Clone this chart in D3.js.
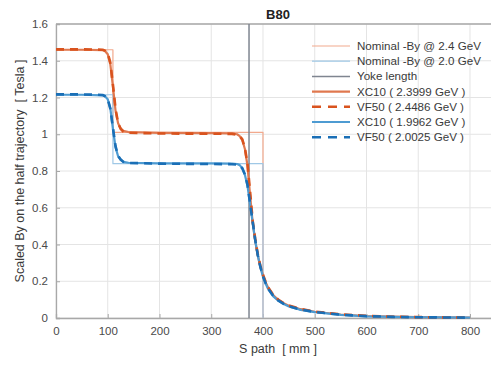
<!DOCTYPE html>
<html><head><meta charset="utf-8">
<script src="https://cdn.jsdelivr.net/npm/d3@7"></script>
<style>body{margin:0;background:#fff}svg{display:block;font-family:"Liberation Sans",Arial,sans-serif}text{white-space:pre}</style>
</head><body><div id="chart"></div>
<script>
// ---- data ----
const xTicks = [0,100,200,300,400,500,600,700,800];
const yTicks = [0,0.2,0.4,0.6,0.8,1,1.2,1.4,1.6];
const yTickLabels = ["0","0.2","0.4","0.6","0.8","1","1.2","1.4","1.6"];
const title = "B80";
const xLabel = "S path  [ mm ]";
const yLabel = "Scaled By on the half trajectory  [ Tesla ]";
const legendLabels = ["Nominal -By @ 2.4 GeV","Nominal -By @ 2.0 GeV","Yoke length","XC10 ( 2.3999 GeV )","VF50 ( 2.4486 GeV )","XC10 ( 1.9962 GeV )","VF50 ( 2.0025 GeV )"];
const yokeLength = 373;
const nominalS24 = [0,110,110,400,400];
const nominalB24 = [1.46,1.46,1.01,1.01,0];
const nominalS20 = [0,110,110,400,400];
const nominalB20 = [1.215,1.215,0.84,0.84,0];
const sPts = [0,50,90,95,100,105,110,115,120,125,130,140,200,300,340,350,355,360,365,370,375,380,385,390,395,400,405,410,420,430,440,450,470,500,550,600,650,700,750,800];
const xc10_24 = [1.46,1.46,1.458,1.452,1.435,1.38,1.26,1.13,1.06,1.03,1.018,1.012,1.008,1.006,1.004,1.0,0.99,0.97,0.92,0.83,0.67,0.52,0.42,0.34,0.28,0.232,0.195,0.165,0.123,0.097,0.08,0.067,0.05,0.034,0.019,0.011,0.007,0.005,0.003,0.002];
const vf50_24  = [1.462,1.462,1.46,1.455,1.44,1.39,1.27,1.14,1.06,1.03,1.015,1.008,1.004,1.003,1.002,0.998,0.99,0.972,0.925,0.84,0.69,0.53,0.43,0.345,0.283,0.235,0.197,0.166,0.125,0.099,0.081,0.068,0.051,0.035,0.02,0.012,0.007,0.005,0.003,0.002];
const xc10_20 = [1.215,1.215,1.212,1.205,1.19,1.14,1.03,0.93,0.88,0.86,0.85,0.845,0.842,0.841,0.84,0.838,0.832,0.815,0.78,0.72,0.62,0.52,0.42,0.34,0.275,0.225,0.188,0.158,0.118,0.093,0.076,0.063,0.046,0.032,0.017,0.009,0.006,0.004,0.003,0.002];
const vf50_20  = [1.217,1.217,1.214,1.207,1.19,1.14,1.035,0.935,0.882,0.862,0.85,0.844,0.84,0.838,0.837,0.835,0.83,0.815,0.782,0.725,0.625,0.525,0.425,0.342,0.278,0.227,0.19,0.159,0.119,0.094,0.077,0.064,0.047,0.033,0.018,0.01,0.006,0.004,0.003,0.002];

// ---- layout ----
const W = 491, H = 365;
const m = {left:56, top:24, right:-9, bottom:47};
const svg = d3.select("#chart").append("svg").attr("width",W).attr("height",H);
const x = d3.scaleLinear().domain([0,858]).range([m.left, W - m.right]);
const y = d3.scaleLinear().domain([0,1.6]).range([H - m.bottom, m.top]);

// grid
svg.append("g").selectAll("line").data(xTicks).join("line")
  .attr("x1",d=>x(d)).attr("x2",d=>x(d)).attr("y1",y(0)).attr("y2",y(1.6))
  .attr("stroke","#e4e4e4").attr("stroke-width",1);
svg.append("g").selectAll("line").data(yTicks).join("line")
  .attr("y1",d=>y(d)).attr("y2",d=>y(d)).attr("x1",x(0)).attr("x2",W)
  .attr("stroke","#e4e4e4").attr("stroke-width",1);

// axes
const xAxis = d3.axisBottom(x).tickValues(xTicks).tickSize(-4).tickPadding(9).tickFormat(d3.format("d"));
const yAxis = d3.axisLeft(y).tickValues(yTicks).tickSize(-4).tickPadding(8).tickFormat((d,i)=>yTickLabels[i]);
const gx = svg.append("g").attr("transform",`translate(0,${y(0)})`).call(xAxis);
const gy = svg.append("g").attr("transform",`translate(${x(0)},0)`).call(yAxis);
[gx,gy].forEach(g=>{
  g.select(".domain").attr("stroke","#a8a8a8").attr("stroke-width",1.3);
  g.selectAll(".tick line").attr("stroke","#a8a8a8");
  g.selectAll(".tick text").attr("fill","#4a4a4a").attr("font-size",11.5);
});
svg.append("line").attr("x1",x(0)).attr("x2",W).attr("y1",y(1.6)).attr("y2",y(1.6)).attr("stroke","#a8a8a8").attr("stroke-width",1.3);

// lines
const line = d3.line().x(d=>x(d[0])).y(d=>y(d[1]));
const zip = (a,b)=>a.map((v,i)=>[v,b[i]]);
const series = [
  {d:zip(nominalS24,nominalB24), c:"#f2a98d", w:1.2, dash:null},
  {d:zip(nominalS20,nominalB20), c:"#9fc8e6", w:1.2, dash:null},
  {d:[[yokeLength,0],[yokeLength,1.6]], c:"#7f8590", w:1.5, dash:null},
  {d:zip(sPts,xc10_24), c:"#e0784f", w:2.2, dash:null},
  {d:zip(sPts,vf50_24), c:"#d9531e", w:2.6, dash:"8,6"},
  {d:zip(sPts,xc10_20), c:"#4d9bd2", w:2.2, dash:null},
  {d:zip(sPts,vf50_20), c:"#1a6fb6", w:2.6, dash:"8,6"}
];
const order = [0,1,2,3,5,4,6];
const gl = svg.append("g");
order.forEach(i=>{
  const s = series[i];
  gl.append("path").attr("d",line(s.d)).attr("fill","none").attr("stroke",s.c)
    .attr("stroke-width",s.w).attr("stroke-dasharray",s.dash).attr("stroke-linejoin","round");
});

// legend
const lg = svg.append("g");
legendLabels.forEach((t,i)=>{
  const yy = 46 + i*15.2;
  const s = series[i];
  lg.append("line").attr("x1",312).attr("x2",350).attr("y1",yy).attr("y2",yy)
    .attr("stroke",s.c).attr("stroke-width",s.w).attr("stroke-dasharray",s.dash ? "9,7" : null);
  lg.append("text").attr("x",357).attr("y",yy+4).attr("font-size",11.6).attr("fill","#3a3a3a").text(t);
});

// title & labels
svg.append("text").attr("x",278).attr("y",19).attr("text-anchor","middle").attr("font-weight","bold").attr("font-size",13).attr("fill","#222").text(title);
svg.append("text").attr("x",278).attr("y",353).attr("text-anchor","middle").attr("font-size",12.5).attr("fill","#3a3a3a").text(xLabel);
svg.append("text").attr("transform",`translate(24,${(y(0)+y(1.6))/2}) rotate(-90)`).attr("text-anchor","middle").attr("font-size",12.5).attr("fill","#3a3a3a").text(yLabel);
</script></body></html>
